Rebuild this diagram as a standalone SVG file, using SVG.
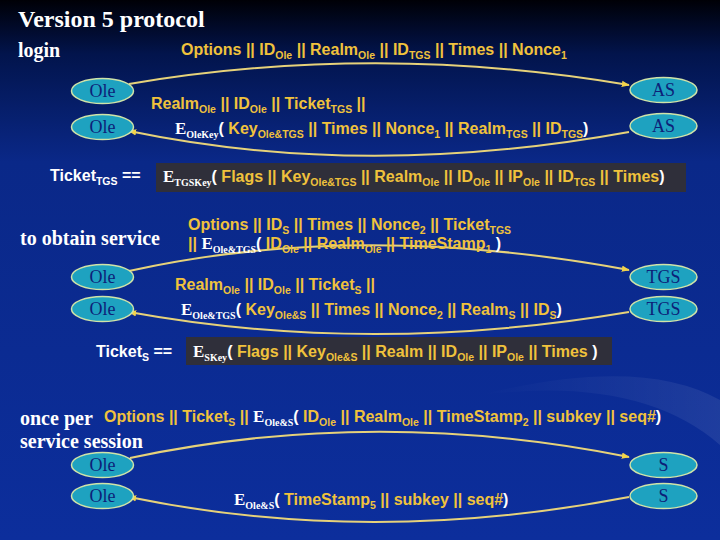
<svg xmlns="http://www.w3.org/2000/svg" width="720" height="540" viewBox="0 0 720 540">
<defs>
<linearGradient id="bg" x1="0" y1="0" x2="0" y2="1">
<stop offset="0" stop-color="#000006"/>
<stop offset="0.1" stop-color="#02144c"/>
<stop offset="0.3" stop-color="#0a2888"/>
<stop offset="1" stop-color="#0c2e9c"/>
</linearGradient>
<linearGradient id="sw" x1="0" y1="0" x2="1" y2="0">
<stop offset="0" stop-color="#ffffff" stop-opacity="0"/>
<stop offset="1" stop-color="#ffffff" stop-opacity="0.08"/>
</linearGradient>
<marker id="ah" viewBox="0 0 10 10" refX="9" refY="5" markerWidth="8" markerHeight="8" markerUnits="userSpaceOnUse" orient="auto">
<path d="M0,1 L10,5 L0,9 z" fill="#f2d34a"/>
</marker>
<style>
.hd{font-family:"Liberation Serif","Times New Roman",serif;font-weight:bold;fill:#ffffff}
.y{font-family:"Liberation Sans",Arial,sans-serif;font-weight:bold;font-size:16px;fill:#f0c23c}
.lab{font-family:"Liberation Sans",Arial,sans-serif;font-weight:bold;font-size:16px;fill:#ffffff}
.w{fill:#ffffff}
.e{font-family:"Liberation Serif","Times New Roman",serif;font-weight:bold;font-size:17px;fill:#ffffff}
.es{font-family:"Liberation Serif","Times New Roman",serif;font-weight:bold;font-size:10px;fill:#ffffff}
.s{font-size:10.5px}
.node ellipse{fill:#1ea2c0;stroke:#cfe3a8;stroke-width:1.5}
.node text{font-family:"Liberation Serif","Times New Roman",serif;font-size:18px;fill:#0d1f78;text-anchor:middle}
.conn path{fill:none;stroke:#e6d27a;stroke-width:2;marker-end:url(#ah)}
.box{fill:#2f2f3a}
</style>
</defs>
<rect x="0" y="0" width="720" height="540" fill="url(#bg)"/>
<path d="M480,395 Q640,375 720,445 L720,400 Q640,355 480,395 z" fill="url(#sw)"/>

<text class="hd" x="18" y="27" font-size="24">Version 5 protocol</text>
<text class="hd" x="18" y="57" font-size="20">login</text>
<text class="hd" x="20" y="245" font-size="20">to obtain service</text>
<text class="hd" x="20" y="425" font-size="20">once per</text>
<text class="hd" x="20" y="448" font-size="20">service session</text>

<g id="connectors" class="conn">
<path d="M129,84 Q378,42 629,85"/>
<path d="M629,132 Q365,180 129,131"/>
<path d="M129,271 Q360,220 629,270"/>
<path d="M629,312 Q370,356 129,312"/>
<path d="M130,458 Q375,406 629,457"/>
<path d="M629,497 Q370,547 129,497"/>
</g>

<rect class="box" x="156" y="163" width="530" height="29"/>
<rect class="box" x="186" y="337" width="426" height="28"/>

<g id="labels">
<text class="y" x="181" y="55">Options || ID<tspan class="s" dy="4">Ole</tspan><tspan dy="-4"> || Realm</tspan><tspan class="s" dy="4">Ole</tspan><tspan dy="-4"> || ID</tspan><tspan class="s" dy="4">TGS</tspan><tspan dy="-4"> || Times  || Nonce</tspan><tspan class="s" dy="4">1</tspan></text>
<text class="y" x="151" y="109">Realm<tspan class="s" dy="4">Ole</tspan><tspan dy="-4"> || ID</tspan><tspan class="s" dy="4">Ole</tspan><tspan dy="-4"> || Ticket</tspan><tspan class="s" dy="4">TGS</tspan><tspan dy="-4"> ||</tspan></text>
<text class="y" x="175" y="134"><tspan class="e">E</tspan><tspan class="es" dy="4">OleKey</tspan><tspan class="w" dy="-4">(</tspan><tspan> Key</tspan><tspan class="s" dy="4">Ole&amp;TGS</tspan><tspan dy="-4"> || Times || Nonce</tspan><tspan class="s" dy="4">1</tspan><tspan dy="-4"> || Realm</tspan><tspan class="s" dy="4">TGS</tspan><tspan dy="-4"> || ID</tspan><tspan class="s" dy="4">TGS</tspan><tspan class="w" dy="-4">)</tspan></text>

<text class="lab" x="50" y="181">Ticket<tspan class="s" dy="4">TGS</tspan><tspan dy="-4">  ==</tspan></text>
<text class="y" x="163" y="182"><tspan class="e">E</tspan><tspan class="es" dy="4">TGSKey</tspan><tspan class="w" dy="-4">(</tspan><tspan> Flags || Key</tspan><tspan class="s" dy="4">Ole&amp;TGS</tspan><tspan dy="-4"> || Realm</tspan><tspan class="s" dy="4">Ole</tspan><tspan dy="-4"> || ID</tspan><tspan class="s" dy="4">Ole</tspan><tspan dy="-4"> || IP</tspan><tspan class="s" dy="4">Ole</tspan><tspan dy="-4"> || ID</tspan><tspan class="s" dy="4">TGS</tspan><tspan dy="-4"> || Times</tspan><tspan class="w">)</tspan></text>

<text class="y" x="188" y="230">Options || ID<tspan class="s" dy="4">S</tspan><tspan dy="-4"> || Times || Nonce</tspan><tspan class="s" dy="4">2</tspan><tspan dy="-4"> || Ticket</tspan><tspan class="s" dy="4">TGS</tspan></text>
<text class="y" x="188" y="249">|| <tspan class="e">E</tspan><tspan class="es" dy="4">Ole&amp;TGS</tspan><tspan class="w" dy="-4">(</tspan><tspan> ID</tspan><tspan class="s" dy="4">Ole</tspan><tspan dy="-4"> || Realm</tspan><tspan class="s" dy="4">Ole</tspan><tspan dy="-4"> || TimeStamp</tspan><tspan class="s" dy="4">1</tspan><tspan class="w" dy="-4"> )</tspan></text>

<text class="y" x="175" y="290">Realm<tspan class="s" dy="4">Ole</tspan><tspan dy="-4"> || ID</tspan><tspan class="s" dy="4">Ole</tspan><tspan dy="-4"> || Ticket</tspan><tspan class="s" dy="4">S</tspan><tspan dy="-4"> ||</tspan></text>
<text class="y" x="181" y="315"><tspan class="e">E</tspan><tspan class="es" dy="4">Ole&amp;TGS</tspan><tspan class="w" dy="-4">(</tspan><tspan> Key</tspan><tspan class="s" dy="4">Ole&amp;S</tspan><tspan dy="-4"> || Times || Nonce</tspan><tspan class="s" dy="4">2</tspan><tspan dy="-4"> || Realm</tspan><tspan class="s" dy="4">S</tspan><tspan dy="-4"> || ID</tspan><tspan class="s" dy="4">S</tspan><tspan class="w" dy="-4">)</tspan></text>

<text class="lab" x="96" y="357">Ticket<tspan class="s" dy="4">S</tspan><tspan dy="-4"> ==</tspan></text>
<text class="y" x="193" y="357"><tspan class="e">E</tspan><tspan class="es" dy="4">SKey</tspan><tspan class="w" dy="-4">(</tspan><tspan> Flags || Key</tspan><tspan class="s" dy="4">Ole&amp;S</tspan><tspan dy="-4"> || Realm || ID</tspan><tspan class="s" dy="4">Ole</tspan><tspan dy="-4"> || IP</tspan><tspan class="s" dy="4">Ole</tspan><tspan dy="-4"> || Times</tspan><tspan class="w"> )</tspan></text>

<text class="y" x="104" y="422">Options || Ticket<tspan class="s" dy="4">S</tspan><tspan dy="-4"> || </tspan><tspan class="e">E</tspan><tspan class="es" dy="4">Ole&amp;S</tspan><tspan class="w" dy="-4">(</tspan><tspan> ID</tspan><tspan class="s" dy="4">Ole</tspan><tspan dy="-4"> || Realm</tspan><tspan class="s" dy="4">Ole</tspan><tspan dy="-4"> || TimeStamp</tspan><tspan class="s" dy="4">2</tspan><tspan dy="-4"> || subkey || seq#</tspan><tspan class="w">)</tspan></text>
<text class="y" x="234" y="505"><tspan class="e">E</tspan><tspan class="es" dy="4">Ole&amp;S</tspan><tspan class="w" dy="-4">(</tspan><tspan> TimeStamp</tspan><tspan class="s" dy="4">5</tspan><tspan dy="-4"> || subkey || seq#</tspan><tspan class="w">)</tspan></text>
</g>

<g id="ole1" class="node"><ellipse cx="102.5" cy="91" rx="31" ry="12.5"/><text x="102.5" y="97">Ole</text></g>
<g id="ole2" class="node"><ellipse cx="102.5" cy="127" rx="31" ry="12.5"/><text x="102.5" y="133">Ole</text></g>
<g id="as1" class="node"><ellipse cx="663.5" cy="90" rx="33.5" ry="12.5"/><text x="663.5" y="96">AS</text></g>
<g id="as2" class="node"><ellipse cx="663.5" cy="126" rx="33.5" ry="12.5"/><text x="663.5" y="132">AS</text></g>
<g id="ole3" class="node"><ellipse cx="102.5" cy="277" rx="31" ry="12.5"/><text x="102.5" y="283">Ole</text></g>
<g id="ole4" class="node"><ellipse cx="102.5" cy="309" rx="31" ry="12.5"/><text x="102.5" y="315">Ole</text></g>
<g id="tgs1" class="node"><ellipse cx="663.5" cy="277" rx="33.5" ry="12.5"/><text x="663.5" y="283">TGS</text></g>
<g id="tgs2" class="node"><ellipse cx="663.5" cy="309" rx="33.5" ry="12.5"/><text x="663.5" y="315">TGS</text></g>
<g id="ole5" class="node"><ellipse cx="102.5" cy="465" rx="31" ry="12.5"/><text x="102.5" y="471">Ole</text></g>
<g id="ole6" class="node"><ellipse cx="102.5" cy="496" rx="31" ry="12.5"/><text x="102.5" y="502">Ole</text></g>
<g id="s1" class="node"><ellipse cx="663.5" cy="465" rx="33.5" ry="12.5"/><text x="663.5" y="471">S</text></g>
<g id="s2" class="node"><ellipse cx="663.5" cy="496" rx="33.5" ry="12.5"/><text x="663.5" y="502">S</text></g>
</svg>
